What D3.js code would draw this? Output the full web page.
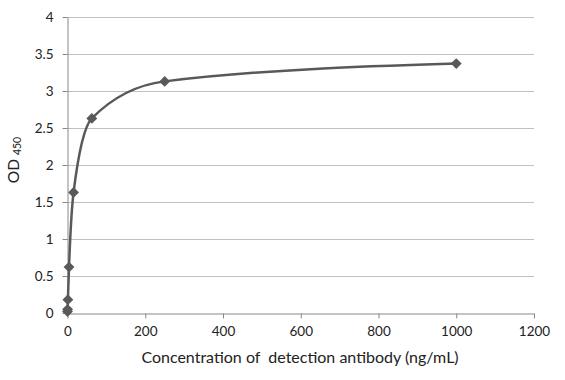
<!DOCTYPE html>
<html><head><meta charset="utf-8">
<script src="https://cdn.jsdelivr.net/npm/d3@7"></script>
<style>body{margin:0;background:#fff}text{font-family:Lato,"Open Sans",sans-serif;fill:#222}</style>
</head><body><svg id="c" width="565" height="380"></svg>
<script>
const concentrations = [0.06, 0.24, 0.98, 3.9, 15.6, 62.5, 250, 1000];
const od450 = [0.02, 0.05, 0.18, 0.62, 1.63, 2.63, 3.13, 3.37];
const xTicks = [0, 200, 400, 600, 800, 1000, 1200];
const yTicks = [0, 0.5, 1, 1.5, 2, 2.5, 3, 3.5, 4];

const svg = d3.select("#c");
const m = {l: 67.5, r: 534, t: 17, b: 313};
const x = d3.scaleLinear().domain([0, 1200]).range([m.l, m.r]);
const y = d3.scaleLinear().domain([0, 4]).range([m.b, m.t]);

// gridlines
svg.append("g").selectAll("line").data(yTicks.slice(1)).join("line")
  .attr("x1", m.l).attr("x2", m.r).attr("y1", d => Math.round(y(d)) + 0.5).attr("y2", d => Math.round(y(d)) + 0.5)
  .attr("stroke", "#c0c0c0").attr("stroke-width", 1);

// y axis
const ya = svg.append("g").attr("transform", `translate(${m.l},0)`)
  .call(d3.axisLeft(y).tickValues(yTicks).tickSize(5).tickSizeOuter(0).tickFormat(d3.format("")));
ya.select(".domain").attr("stroke", "#888");
ya.selectAll(".tick line").attr("stroke", "#888");
ya.selectAll("text").attr("font-size", 13.5).attr("x", -14).attr("fill", "#222");

// x axis
const xa = svg.append("g").attr("transform", `translate(0,${m.b + 0.5})`)
  .call(d3.axisBottom(x).tickValues(xTicks).tickSize(5).tickSizeOuter(0).tickFormat(d3.format("")));
xa.select(".domain").attr("stroke", "#888");
xa.selectAll(".tick line").attr("stroke", "#888");
xa.selectAll("text").attr("font-size", 13.5).attr("y", 13).attr("fill", "#222");

// line
const pts = concentrations.map((c, i) => [c, od450[i]]);
svg.append("path").datum(pts)
  .attr("d", d3.line().x(d => x(d[0])).y(d => y(d[1])).curve(d3.curveMonotoneX))
  .attr("fill", "none").attr("stroke", "#595959").attr("stroke-width", 2.5);

// markers
svg.append("g").selectAll("path").data(pts).join("path")
  .attr("transform", d => `translate(${x(d[0])},${y(d[1])})`)
  .attr("d", d3.symbol().type(d3.symbolDiamond2).size(75))
  .attr("fill", "#595959");

// axis titles
svg.append("text").attr("x", 300).attr("y", 363).attr("text-anchor", "middle")
  .attr("font-size", 16).style("white-space", "pre")
  .text("Concentration of  detection antibody (ng/mL)");
const yt = svg.append("text").attr("transform", "translate(19,160) rotate(-90)")
  .attr("text-anchor", "middle").attr("font-size", 15.5);
yt.append("tspan").text("OD ");
yt.append("tspan").attr("font-size", 10.5).attr("dy", 2).text("450");
</script></body></html>
